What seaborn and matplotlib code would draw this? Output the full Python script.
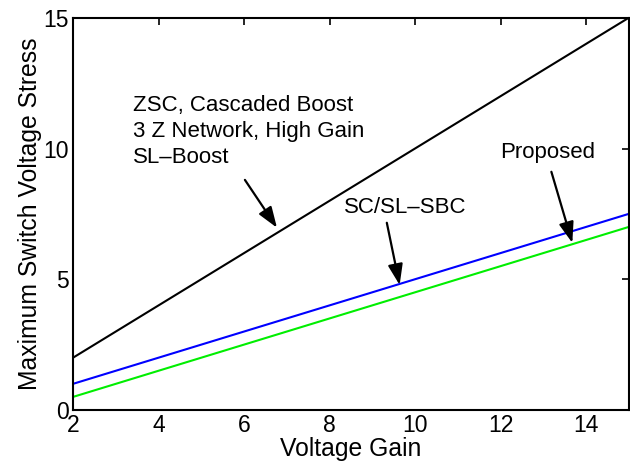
import matplotlib
matplotlib.use("Agg")
import matplotlib.pyplot as plt
import seaborn as sns
import pandas as pd

voltage_gain = [2, 3, 4, 5, 6, 7, 8, 9, 10, 11, 12, 13, 14, 15]
stress_zsc = [2, 3, 4, 5, 6, 7, 8, 9, 10, 11, 12, 13, 14, 15]
stress_scsl = [1.0, 1.5, 2.0, 2.5, 3.0, 3.5, 4.0, 4.5, 5.0, 5.5, 6.0, 6.5, 7.0, 7.5]
stress_proposed = [0.5, 1.0, 1.5, 2.0, 2.5, 3.0, 3.5, 4.0, 4.5, 5.0, 5.5, 6.0, 6.5, 7.0]
series_names = ["ZSC", "SC/SL-SBC", "Proposed"]
series_colors = ["#000000", "#0000ff", "#00ee00"]
x_ticks = [2, 4, 6, 8, 10, 12, 14]
y_ticks = [0, 5, 10, 15]

df = pd.DataFrame({
    "gain": voltage_gain * 3,
    "stress": stress_zsc + stress_scsl + stress_proposed,
    "series": [series_names[0]] * len(voltage_gain)
              + [series_names[1]] * len(voltage_gain)
              + [series_names[2]] * len(voltage_gain),
})

sns.set_style("white")
plt.rcParams["font.family"] = ["Liberation Sans", "DejaVu Sans"]
plt.rcParams["text.color"] = "black"
plt.rcParams["axes.labelcolor"] = "black"

FS_TICK = 16.5
FS_LABEL = 17.8
FS_ANN = 16
fig = plt.figure(figsize=(6.3, 4.68), dpi=100)
ax = fig.add_axes([0.116, 0.124, 0.882, 0.838])

sns.lineplot(data=df, x="gain", y="stress", hue="series",
             palette=dict(zip(series_names, series_colors)),
             linewidth=1.5, legend=False, ax=ax)

ax.set_xlim(2, 15)
ax.set_ylim(0, 15)
ax.set_xticks(x_ticks)
ax.set_yticks(y_ticks)
ax.tick_params(direction="in", length=5, width=1.2, top=True, right=True,
               labelsize=FS_TICK, pad=3, colors="black")
for s in ax.spines.values():
    s.set_visible(True)
    s.set_linewidth(1.5)
    s.set_color("black")
ax.set_xlabel("Voltage Gain", fontsize=FS_LABEL, labelpad=0)
ax.set_ylabel("Maximum Switch Voltage Stress", fontsize=FS_LABEL, labelpad=1)

arrow = dict(arrowstyle="-|>,head_length=0.7,head_width=0.25", color="black",
             lw=1.6, mutation_scale=18, shrinkA=0, shrinkB=0)
ax.text(3.4, 12.05, "ZSC, Cascaded Boost\n3 Z Network, High Gain\nSL\u2013Boost",
        fontsize=FS_ANN, va="top", ha="left", linespacing=1.33)
ax.annotate("", xy=(6.77, 6.97), xytext=(6.02, 8.8), arrowprops=arrow)
ax.text(9.76, 7.73, "SC/SL\u2013SBC", fontsize=FS_ANN, ha="center", va="center")
ax.annotate("", xy=(9.64, 4.78), xytext=(9.34, 7.16), arrowprops=arrow)
ax.text(13.1, 9.84, "Proposed", fontsize=FS_ANN, ha="center", va="center")
ax.annotate("", xy=(13.68, 6.39), xytext=(13.19, 9.11), arrowprops=arrow)

fig.savefig("out.png", dpi=100)
